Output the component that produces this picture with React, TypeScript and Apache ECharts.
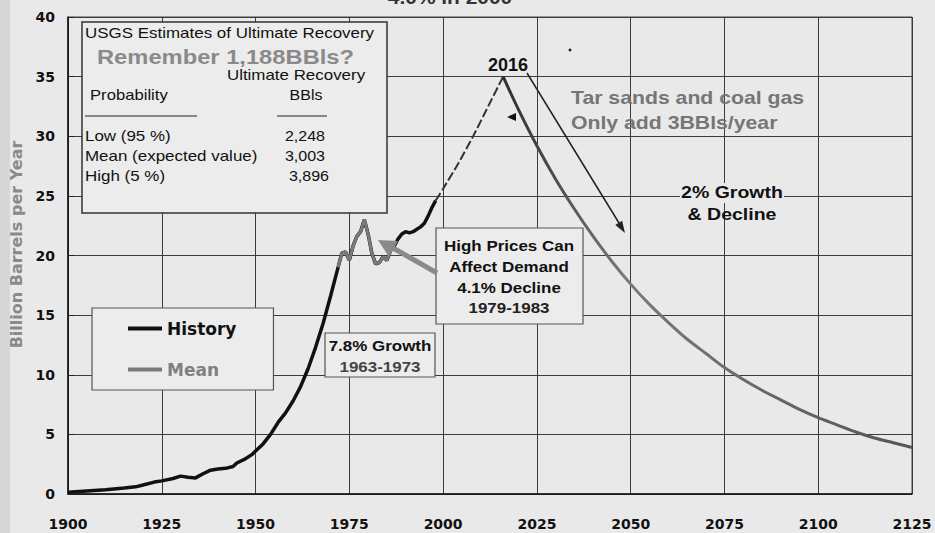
import React, { useEffect, useRef } from "react";
import * as echarts from "echarts";

const FONT = '"Liberation Sans", Arial, sans-serif';
const WIDE = '"DejaVu Sans", Verdana, sans-serif';

// History (black)
const historyYears = [1900, 1905, 1910, 1915, 1918, 1920, 1923, 1925, 1928, 1930, 1932, 1934, 1936, 1938, 1940, 1942, 1944, 1945, 1947, 1949, 1950, 1952, 1954, 1956, 1958, 1960, 1962, 1964, 1966, 1968, 1970, 1972, 1973, 1974, 1975, 1976, 1977, 1978, 1979, 1980, 1981, 1982, 1983, 1984, 1985, 1986, 1987, 1988, 1989, 1990, 1991, 1992, 1993, 1994, 1995, 1996, 1997, 1998];
const historyValues = [0.15, 0.25, 0.35, 0.5, 0.6, 0.75, 1.0, 1.1, 1.3, 1.5, 1.4, 1.35, 1.7, 2.0, 2.1, 2.15, 2.3, 2.6, 2.9, 3.3, 3.6, 4.2, 5.0, 6.0, 6.8, 7.8, 9.0, 10.5, 12.3, 14.3, 16.6, 19.0, 20.2, 20.3, 19.6, 20.8, 21.6, 22.0, 23.0, 21.8, 20.2, 19.3, 19.4, 19.9, 19.6, 20.4, 20.8, 21.4, 21.8, 22.0, 21.9, 22.0, 22.2, 22.4, 22.7, 23.3, 24.0, 24.6];

// Mean (grey) highlight of the 1973-1985 period
const meanHighlightFrom = 1972;
const meanHighlightTo = 1986;

// Projection: growth to 2016 peak
const growthYears = [1998, 2000, 2004, 2008, 2012, 2016];
const growthValues = [24.6, 25.6, 27.7, 30.0, 32.5, 35.0];

// Projection: decline after 2016
const declineYears = [2016, 2020, 2025, 2030, 2035, 2040, 2045, 2050, 2055, 2060, 2065, 2070, 2075, 2080, 2085, 2090, 2095, 2100, 2105, 2110, 2115, 2120, 2125];
const declineValues = [35.0, 32.3, 29.2, 26.4, 23.9, 21.6, 19.5, 17.6, 15.9, 14.4, 13.0, 11.8, 10.6, 9.6, 8.7, 7.9, 7.1, 6.4, 5.8, 5.2, 4.7, 4.3, 3.9];

// USGS table
const usgsRows = ["Low (95 %)", "Mean (expected value)", "High (5 %)"];
const usgsValues = ["2,248", "3,003", "3,896"];

const zip = (xs: number[], ys: number[]) => xs.map((x, i) => [x, ys[i]]);

function txt(x: number, y: number, text: string, font: string, fill: string, align = "left", sx = 1, z = 20) {
  return {
    type: "text",
    x,
    y,
    z,
    scaleX: sx,
    style: {
      text,
      x: 0,
      y: 0,
      font,
      fill,
      textAlign: align,
      align,
      textVerticalAlign: "middle",
      verticalAlign: "middle",
    },
  };
}

function rect(x: number, y: number, w: number, h: number, fill: string, stroke: string | null, lw = 1, z = 15) {
  return {
    type: "rect",
    z,
    shape: { x, y, width: w, height: h },
    style: { fill, stroke: stroke || undefined, lineWidth: stroke ? lw : 0 },
  };
}

export default function App() {
  const ref = useRef<HTMLDivElement>(null);

  useEffect(() => {
    if (!ref.current) return;
    const chart = echarts.init(ref.current, null, { renderer: "svg" });

    const history = zip(historyYears, historyValues);
    const meanHighlight = history.filter((p) => p[0] >= meanHighlightFrom && p[0] <= meanHighlightTo);

    const graphic: any[] = [
      // left shading of the paper
      rect(0, 0, 10, 533, "#d6d6d6", null, 0, 1),
      // clipped title
      txt(450, -3, "4.0% in 2000", `bold 19px ${FONT}`, "#333", "center", 1.1),
      // USGS box
      rect(82, 22, 305, 191, "#ececec", "#333", 1.5, 15),
      txt(85, 33, "USGS Estimates of Ultimate Recovery", `15px ${FONT}`, "#111", "left", 1.13),
      txt(97, 57, "Remember 1,188BBls?", `bold 21px ${FONT}`, "#8a8a8a", "left", 1.13),
      txt(296, 75, "Ultimate Recovery", `14px ${FONT}`, "#111", "center", 1.21),
      txt(90, 95, "Probability", `14px ${FONT}`, "#111", "left", 1.19),
      txt(306, 95, "BBls", `14px ${FONT}`, "#111", "center", 1.14),
      { type: "line", z: 20, shape: { x1: 85, y1: 116, x2: 197, y2: 116 }, style: { stroke: "#222", lineWidth: 1.2 } },
      { type: "line", z: 20, shape: { x1: 277, y1: 116, x2: 327, y2: 116 }, style: { stroke: "#222", lineWidth: 1.2 } },
      ...usgsRows.map((r, i) => txt(85, 136 + i * 20, r, `15px ${FONT}`, "#111", "left", 1.13)),
      ...usgsValues.map((v, i) => txt(325 + (i === 2 ? 4 : 0), 136 + i * 20, v, `15px ${FONT}`, "#111", "right", 1.07)),
      // 2016 label
      txt(508, 65, "2016", `bold 18px ${FONT}`, "#111", "center"),
      { type: "circle", z: 20, shape: { cx: 570, cy: 50, r: 1.5 }, style: { fill: "#222" } },
      { type: "polygon", z: 20, shape: { points: [[507, 117], [516, 113], [516, 121]] }, style: { fill: "#111" } },
      // black arrow
      { type: "line", z: 20, shape: { x1: 527, y1: 73, x2: 619, y2: 223 }, style: { stroke: "#222", lineWidth: 1.5 } },
      { type: "polygon", z: 20, shape: { points: [[625, 233], [615.3, 224.9], [622.1, 220.7]] }, style: { fill: "#222" } },
      // Tar sands text
      txt(571, 98, "Tar sands and coal gas", `bold 18px ${FONT}`, "#767676", "left", 1.18),
      txt(571, 123, "Only add 3BBls/year", `bold 18px ${FONT}`, "#767676", "left", 1.18),
      // 2% growth
      rect(680, 183, 104, 20, "#e9e9e9", null, 0, 15),
      txt(732, 193, "2% Growth", `bold 16px ${FONT}`, "#111", "center", 1.22),
      txt(732, 215, "& Decline", `bold 16px ${FONT}`, "#111", "center", 1.22),
      // High prices box
      rect(436, 228, 147, 96, "#ececec", "#555", 1.2, 15),
      txt(509, 246, "High Prices Can", `bold 15px ${FONT}`, "#111", "center", 1.13),
      txt(509, 267, "Affect Demand", `bold 15px ${FONT}`, "#111", "center", 1.13),
      txt(509, 288, "4.1% Decline", `bold 15px ${FONT}`, "#111", "center", 1.13),
      txt(509, 308, "1979-1983", `bold 15px ${FONT}`, "#222", "center", 1.13),
      // grey arrow
      { type: "line", z: 20, shape: { x1: 437, y1: 273, x2: 393, y2: 248 }, style: { stroke: "#8a8a8a", lineWidth: 5 } },
      { type: "polygon", z: 20, shape: { points: [[378, 240], [398, 241], [389, 257]] }, style: { fill: "#8a8a8a" } },
      // 7.8% growth box
      rect(325, 333, 110, 44, "#ececec", "#555", 1.2, 15),
      txt(380, 346, "7.8% Growth", `bold 15px ${FONT}`, "#111", "center", 1.13),
      txt(380, 367, "1963-1973", `bold 15px ${FONT}`, "#444", "center", 1.13),
    ];

    const option: any = {
      animation: false,
      backgroundColor: "#e9e9e9",
      textStyle: { fontFamily: FONT },
      grid: {
        left: 68,
        right: 23,
        top: 17,
        bottom: 39,
        show: true,
        borderColor: "#444",
        borderWidth: 1,
        backgroundColor: "transparent",
      },
      legend: {
        orient: "vertical",
        left: 92,
        top: 308,
        backgroundColor: "#ececec",
        borderColor: "#555",
        borderWidth: 1.2,
        borderRadius: 0,
        padding: [12, 37, 12, 36],
        itemGap: 24,
        itemWidth: 34,
        itemHeight: 4,
        icon: "rect",
        z: 30,
        textStyle: { fontFamily: WIDE, fontWeight: "bold", fontSize: 17 },
        data: [
          { name: "History", itemStyle: { color: "#111" }, textStyle: { color: "#111" } },
          { name: "Mean", itemStyle: { color: "#7a7a7a" }, textStyle: { color: "#808080" } },
        ],
      },
      xAxis: {
        type: "value",
        min: 1900,
        max: 2125,
        interval: 25,
        axisLine: { show: true, onZero: false, lineStyle: { color: "#111", width: 1.5 } },
        axisTick: { show: false },
        axisLabel: {
          margin: 23,
          color: "#111",
          fontWeight: "bold",
          fontSize: 14,
          fontFamily: WIDE,
          showMinLabel: true,
          showMaxLabel: true,
          formatter: (v: number) => String(v),
        },
        splitLine: { show: true, lineStyle: { color: "#3c3c3c", width: 1 } },
      },
      yAxis: {
        type: "value",
        min: 0,
        max: 40,
        interval: 5,
        name: "Billion Barrels per Year",
        nameLocation: "middle",
        nameGap: 44,
        nameTextStyle: { color: "#8a8a8a", fontWeight: "bold", fontSize: 16, fontFamily: WIDE, padding: [0, 0, 0, 22] },
        axisLine: { show: true, lineStyle: { color: "#111", width: 1.5 } },
        axisTick: { show: true, inside: true, length: 6, lineStyle: { color: "#222" } },
        axisLabel: { margin: 13, color: "#111", fontWeight: "bold", fontSize: 14, fontFamily: WIDE },
        splitLine: { show: true, lineStyle: { color: "#3c3c3c", width: 1 } },
      },
      series: [
        {
          name: "History",
          type: "line",
          data: history,
          showSymbol: false,
          symbol: "none",
          z: 3,
          lineStyle: { color: "#111", width: 3.5 },
          itemStyle: { color: "#111" },
        },
        {
          name: "Mean",
          type: "line",
          data: meanHighlight,
          showSymbol: false,
          symbol: "none",
          z: 4,
          lineStyle: { color: "#7a7a7a", width: 3 },
          itemStyle: { color: "#7a7a7a" },
        },
        {
          name: "Growth",
          type: "line",
          data: zip(growthYears, growthValues),
          showSymbol: false,
          symbol: "none",
          smooth: 0.2,
          z: 3,
          lineStyle: { color: "#333", width: 2, type: [9, 3] },
        },
        {
          name: "Mean",
          type: "line",
          data: zip(declineYears, declineValues),
          showSymbol: false,
          symbol: "none",
          smooth: 0.3,
          z: 3,
          itemStyle: { color: "#7a7a7a" },
          lineStyle: {
            width: 3,
            color: new echarts.graphic.LinearGradient(0, 0, 1, 0, [
              { offset: 0, color: "#2e2e2e" },
              { offset: 0.3, color: "#7a7a7a" },
              { offset: 1, color: "#555" },
            ]),
          },
        },
      ],
      graphic,
    };

    chart.setOption(option);
    return () => chart.dispose();
  }, []);

  return (
    <div
      ref={ref}
      style={{ position: "fixed", left: 0, top: 0, width: 935, height: 533 }}
    />
  );
}
